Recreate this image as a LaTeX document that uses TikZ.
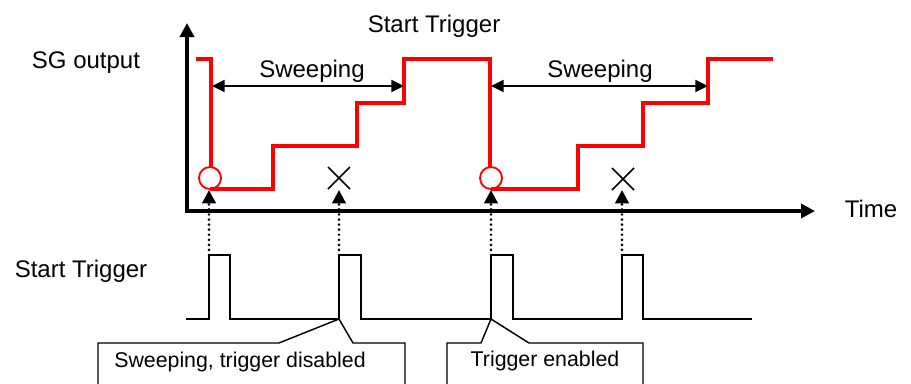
\documentclass[tikz,border=0pt]{standalone}
\usepackage{fontspec}
\setmainfont{Liberation Sans}
\usepackage{tikz}
\usetikzlibrary{positioning,arrows.meta}

\begin{document}
\begin{tikzpicture}[
  x=0.75pt, y=-0.75pt,
  lbl/.style={font=\fontsize{18}{20}\selectfont, anchor=base, inner sep=0pt},
  note/.style={font=\fontsize{16}{18}\selectfont, anchor=base, inner sep=0pt},
  axis/.style={line width=2.6pt, -{Triangle[length=10.5pt,width=10.5pt]}},
  sg/.style={red, line width=2.5pt},
  ring/.style={red, line width=1.4pt},
  span/.style={line width=1.7pt,
               {Triangle[length=9.5pt,width=9pt]}-{Triangle[length=9.5pt,width=9pt]}},
  trig/.style={line width=2.2pt, line cap=round, dash pattern=on 0pt off 3.8pt,
               -{Triangle[length=10pt,width=10pt]}},
  pulse/.style={line width=1.1pt},
  callout/.style={line width=1.1pt}
]
  \useasboundingbox (0,0) rectangle (911,383);

  % axes
  \coordinate (O) at (187,211);
  \coordinate (ytop) at (187,23);
  \coordinate (xend) at (815,211);
  \draw[axis] (O) -- (ytop);
  \draw[axis] ([xshift=-1.3pt]O) -- (xend);

  % labels
  \node[lbl] (sgout)   at (86,68)   {SG output};
  \node[lbl] (toptrig) at (434,32)  {Start Trigger};
  \node[lbl] (time)    at (871,217) {Time};
  \node[lbl] (trigin)  at (81,277)  {Start Trigger};

  % SG output
  \draw[sg] (196,59) -- (211,59) -- (211,167);
  \draw[ring] (210,178) circle (11);
  \draw[sg] (210,189) -- (273,189) -- (273,146) -- (357,146) -- (357,103)
            -- (404,103) -- (404,59) -- (490,59) -- (490,167);
  \draw[ring] (491,178) circle (11);
  \draw[sg] (491,189) -- (578,189) -- (578,146) -- (643,146) -- (643,103)
            -- (708,103) -- (708,59) -- (773,59);

  % ignored triggers
  \draw[line width=1.2pt] (328,167) -- (350,189) (328,189) -- (350,167);
  \draw[line width=1.2pt] (612,168) -- (634,190) (612,190) -- (634,168);

  % sweeping spans
  \coordinate (s1a) at (212,86);
  \coordinate (s1b) at (404,86);
  \coordinate (s2a) at (491,86);
  \coordinate (s2b) at (708,86);
  \draw[span] (s1a) -- (s1b);
  \draw[span] (s2a) -- (s2b);
  \node[lbl] (sw1) at (312,77) {Sweeping};
  \node[lbl] (sw2) at (600,77) {Sweeping};

  % trigger pulses
  \draw[pulse] (186,319) -- (209,319) -- (209,255) -- (230,255) -- (230,319)
               -- (339,319) -- (339,255) -- (361,255) -- (361,319)
               -- (491,319) -- (491,255) -- (513,255) -- (513,319)
               -- (622,319) -- (622,255) -- (643,255) -- (643,319) -- (752,319);

  % dotted links
  \foreach \i/\x in {1/209,2/339,3/491,4/622} {
    \coordinate (p\i) at (\x,255);
    \coordinate (t\i) at (\x,190);
    \draw[trig] (p\i) -- (t\i);
  }

  % callouts
  \coordinate (c1) at (339,319);
  \coordinate (c2) at (491,319);
  \draw[callout] (98,395) -- (98,343) -- (279,343) -- (c1) -- (353,343)
                 -- (405,343) -- (405,395);
  \draw[callout] (447,395) -- (447,343) -- (481,343) -- (c2) -- (529,343)
                 -- (643,343) -- (643,395);
  \node[note] (dis) at (240,367) {Sweeping, trigger disabled};
  \node[note] (ena) at (545,366) {Trigger enabled};
\end{tikzpicture}
\end{document}
